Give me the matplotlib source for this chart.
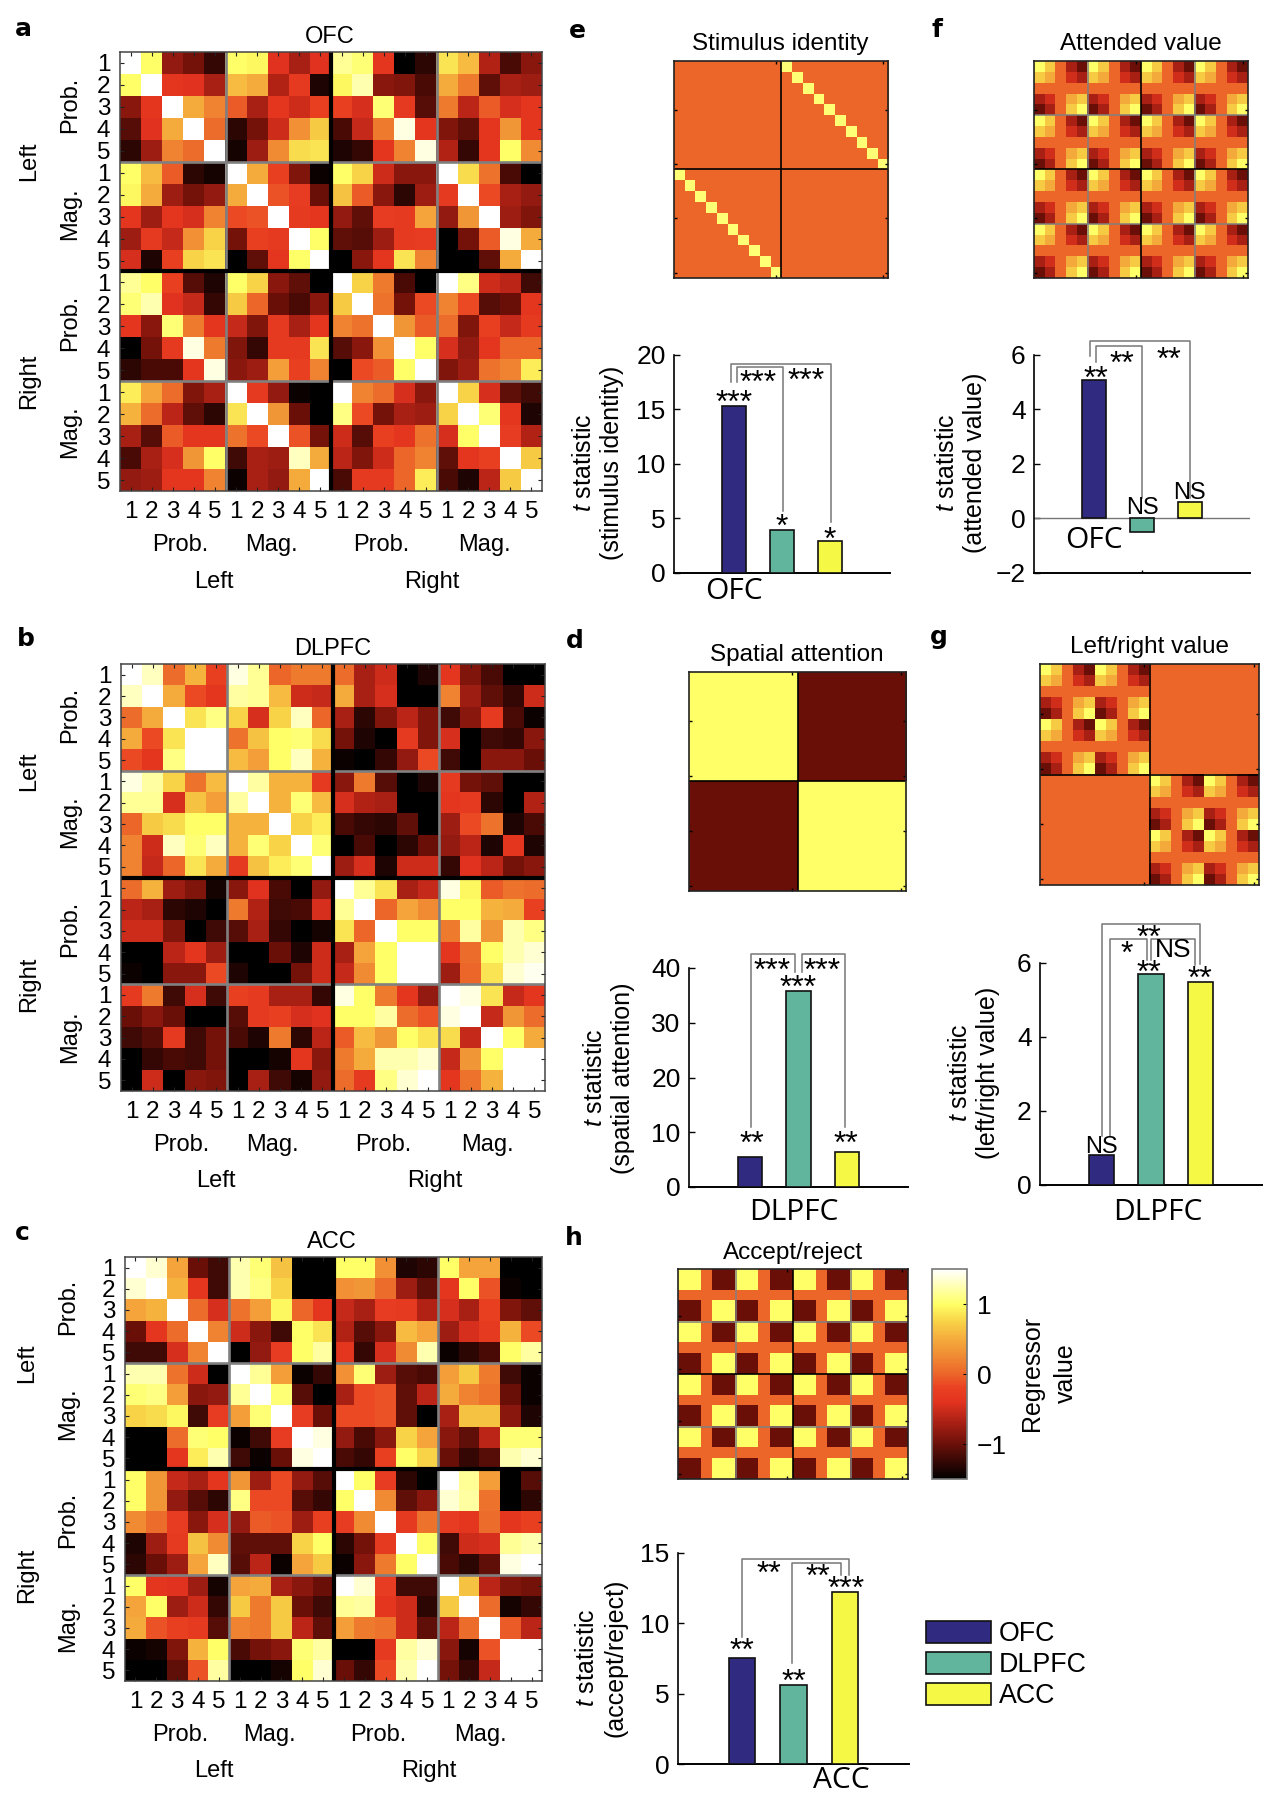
import numpy as np
import matplotlib
matplotlib.use('Agg')
import matplotlib.pyplot as plt
from matplotlib.colors import LinearSegmentedColormap
from matplotlib.patches import Patch

plt.rcParams['font.family'] = ['Liberation Sans', 'DejaVu Sans']
plt.rcParams['mathtext.fontset'] = 'custom'
plt.rcParams['mathtext.it'] = 'Liberation Sans:italic'
plt.rcParams['mathtext.rm'] = 'Liberation Sans'

W, H = 1280, 1803

# data correlation matrices, read cell by cell
ofc = [
    [1.5, 1.0, -.8, -.95, -1.25, 1.0, .95, -.4, -.7, -.4, 1.15, 1.05, -.35, -1.5, -1.3, .85, .6, -.65, -1.15, -.85],
    [1.0, 1.5, -.35, -.4, -.7, .6, .5, -.65, -.3, -1.35, .95, 1.25, -.85, -.9, -1.15, .5, .15, -1.05, -.7, -.75],
    [-.85, -.35, 1.5, .5, .2, -.05, -.7, -.35, -.5, -.2, -.2, -.45, 1.05, -.3, -1.1, .15, -.6, -.05, -.45, -.35],
    [-1.1, -.4, .5, 1.5, .05, -1.3, -.95, -.5, .3, .7, -1.15, -.55, .15, 1.4, -.35, -.9, -1.05, -.35, .35, -.35],
    [-1.3, -.75, .2, .05, 1.5, -1.4, -.75, .25, .8, .85, -1.35, -1.25, -.35, .2, 1.4, -.65, -1.25, -.35, 1.0, .25],
    [1.0, .6, -.05, -1.3, -1.4, 1.5, .5, -.2, -.9, -1.45, 1.0, .75, -.5, -.85, -.85, 1.5, .8, .1, -1.15, -1.5],
    [.95, .5, -.75, -.95, -.8, .5, 1.5, -.1, -.25, -1.0, .65, -.05, -.85, -1.3, -.75, -.3, 1.5, -.15, -.7, -.8],
    [-.35, -.75, -.35, -.45, .2, -.15, -.1, 1.5, -.3, -.35, -.8, -1.05, -.25, -.3, .45, -.8, .35, 1.5, -.75, -.9],
    [-.75, -.3, -.55, .3, .75, -.95, -.2, -.3, 1.5, 1.0, -1.05, -1.1, -.75, -.3, -.25, -1.5, -.95, -.05, 1.4, .5],
    [-.45, -1.35, -.2, .75, .85, -1.5, -1.05, -.35, 1.0, 1.5, -1.5, -.85, -.35, .85, .2, -1.5, -1.5, -1.05, .5, 1.5],
    [1.15, 1.0, -.2, -1.1, -1.35, 1.0, .75, -.85, -1.05, -1.5, 1.5, .75, .15, -1.15, -1.5, 1.5, 1.1, -.5, -.6, -1.2],
    [1.05, 1.25, -.4, -.55, -1.25, .7, 0, -1.0, -1.15, -.85, .7, 1.5, .1, -.95, -.15, .2, -.15, -1.1, -1.0, -.35],
    [-.35, -.85, 1.05, .15, -.35, -.55, -.9, -.3, -.7, -.35, .2, .1, 1.5, .35, -.05, .05, -.9, -.2, -.55, -.3],
    [-1.5, -.95, -.3, 1.4, .15, -.9, -1.25, -.3, -.3, .85, -1.1, -.85, .3, 1.5, 1.0, -.45, -.8, -.35, 0, 0],
    [-1.3, -1.15, -1.15, -.35, 1.4, -.85, -.75, .4, -.2, .2, -1.5, -.15, -.05, 1.0, 1.5, -.9, -.75, .1, .2, .9],
    [.9, .45, .05, -.9, -.7, 1.5, -.3, -.8, -1.45, -1.5, 1.5, .2, .05, -.45, -.85, 1.5, .75, -.45, -1.05, -1.2],
    [.55, .05, -.6, -1.05, -1.3, .85, 1.5, .35, -1.0, -1.5, 1.1, -.15, -.95, -.7, -.75, .75, 1.5, 1.05, -.35, -1.35],
    [-.7, -1.1, -.05, -.35, -.35, .1, -.15, 1.5, -.1, -.95, -.5, -1.1, -.2, -.35, .1, -.45, 1.0, 1.5, -.25, -.65],
    [-1.15, -.7, -.45, .35, 1.0, -1.2, -.7, -.75, 1.3, .5, -.6, -.9, -.5, 0, .2, -1.05, -.35, -.2, 1.5, .7],
    [-.8, -.75, -.35, -.35, .2, -1.45, -.7, -.8, .5, 1.5, -1.15, -.3, -.3, 0, .9, -1.15, -1.35, -.6, .7, 1.5],
]
dlpfc = [
    [1.5, 1.3, .05, .55, -.2, 1.4, 1.15, 0, .15, .15, .05, -.7, -.5, -1.5, -1.35, -.35, -.9, -1.15, -1.5, -1.5],
    [1.3, 1.5, .5, -.15, -.35, 1.2, 1.15, .6, -.5, -.55, .5, -.7, -.45, -1.5, -1.5, .2, -.75, -1.05, -1.25, -.5],
    [.05, .5, 1.5, .85, 1.1, .75, -.45, .75, 1.3, 0, -.7, -1.3, -.9, -.6, -.9, -1.2, -.85, -.3, -1.15, -1.45],
    [.5, -.15, .85, 1.5, 1.5, .1, .65, 1.0, 1.05, .8, -.95, -1.35, -1.5, -.3, -.9, -.45, -1.5, -1.2, -1.25, -.85],
    [-.15, -.35, 1.1, 1.5, 1.5, .6, .4, 1.0, 1.3, .55, -1.45, -1.5, -1.25, -.8, -.15, -1.2, -1.5, -.85, -.85, -1.0],
    [1.4, 1.2, .75, .1, .6, 1.5, 1.2, .55, .55, -.3, -.85, .15, -1.1, -1.5, -1.35, -.3, -.95, -1.05, -1.5, -1.5],
    [1.15, 1.15, -.45, .65, .4, 1.2, 1.5, .55, 1.05, .6, -.45, -.65, -.7, -1.5, -1.5, -.35, -.3, -1.3, -1.5, -.65],
    [0, .7, .8, 1.0, 1.0, .55, .55, 1.5, .75, .9, -1.15, -1.25, -1.3, -1.05, -1.5, -.75, -.15, .1, -1.35, -1.15],
    [.2, -.5, 1.3, 1.05, 1.3, .55, 1.05, .75, 1.5, 1.05, -1.5, -1.15, -1.5, -1.3, -1.0, -.8, -.6, -1.35, -.35, -1.35],
    [.2, -.55, 0, .85, .5, -.3, .65, .9, 1.05, 1.5, -.75, -.45, -1.35, -.5, -.5, -1.25, -.4, -.6, -.95, -.85],
    [.05, .55, -.75, -.9, -1.4, -.85, -.4, -1.15, -1.5, -.8, 1.5, 1.15, .85, -.7, -.55, 1.4, .95, -.05, .1, .05],
    [-.6, -.7, -1.3, -1.35, -1.5, .15, -.65, -1.2, -1.15, -.45, 1.15, 1.5, 0, .45, .25, 1.0, 1.0, .55, .5, -.2],
    [-.5, -.5, -.9, -1.5, -1.2, -1.1, -.7, -1.25, -1.5, -1.4, .85, 0, 1.5, 1.0, 1.0, .15, 1.2, .35, 1.25, 1.1],
    [-1.5, -1.5, -.6, -.35, -.75, -1.5, -1.5, -1.0, -1.35, -.5, -.7, .45, 1.0, 1.5, 1.5, -.35, .05, 1.0, 1.25, 1.35],
    [-1.45, -1.5, -.85, -.85, -.15, -1.35, -1.5, -1.5, -.95, -.5, -.55, .25, 1.0, 1.5, 1.5, -.75, 0, .85, 1.35, 1.45],
    [-.3, .15, -1.2, -.45, -1.2, -.2, -.3, -.7, -.7, -1.25, 1.4, 1.0, .15, -.35, -.8, 1.5, 1.4, .85, -.55, -.35],
    [-1, -.85, -1, -1.5, -1.5, -1.1, -.3, -.2, -.45, -.4, 1.0, 1.0, 1.2, .05, -.1, 1.4, 1.5, -.55, .35, .05],
    [-1.2, -1.1, -.3, -1.2, -.95, -1.15, -1.35, .15, -1.3, -.6, -.05, .6, .35, 1.0, .85, .8, -.55, 1.5, 1.0, .5],
    [-1.5, -1.25, -1.15, -1.2, -.95, -1.5, -1.5, -1.4, -.35, -.85, .15, .5, 1.25, 1.25, 1.35, -.55, .35, 1.0, 1.5, 1.5],
    [-1.5, -.5, -1.5, -.85, -.9, -1.5, -.7, -1.2, -1.4, -.8, .05, -.3, 1.1, 1.35, 1.5, -.35, .1, .55, 1.5, 1.5],
]
acc = [
    [1.5, 1.35, .45, -1, -1.2, 1.25, 1.05, .65, -1.5, -1.5, 1.0, 1.0, .3, -1.35, -1.3, 1.0, .45, .45, -1.5, -1.5],
    [1.35, 1.5, .55, -.35, -1.2, 1.25, 1.1, .75, -1.5, -1.5, .3, .35, .05, -.75, -1.05, -.35, 1.0, -.1, -1.45, -1.5],
    [.45, .55, 1.5, .05, -.45, .1, .4, .95, 0, -.35, -.55, -.7, -.25, -.3, -.65, -.45, -.7, -.2, -.9, -1.05],
    [-1, -.35, .05, 1.5, .2, -.5, -.85, -1.2, 1.0, .85, -.65, -1.1, -.85, .6, .45, -.75, -.45, -.3, .55, -.15],
    [-1.2, -1.2, -.45, .2, 1.5, -1.5, -.8, -.25, 1.0, 1.2, -.35, -1.25, -.45, .25, 1.25, -1.45, -1.3, -1.15, 1.0, 1.2],
    [1.25, 1.25, .1, -.5, -1.5, 1.5, 1.15, .4, -1.45, -1.25, .3, 1.05, -.75, -1.1, -1.15, .4, .7, .15, -1.2, -1.45],
    [1.05, 1.1, .4, -.85, -.8, 1.15, 1.5, 1.05, -1.1, -1.5, -.7, -.15, -.1, -1.05, -.6, .5, .2, .1, -1.0, -1.45],
    [.75, .8, .95, -1.2, -.25, .4, 1.05, 1.5, -.25, -1.0, -.15, -.15, -.1, -1.05, -1.5, -.7, .65, .65, -.85, -1.35],
    [-1.5, -1.5, .05, 1.05, 1.0, -1.45, -1.2, -.25, 1.5, 1.4, -.8, -1.15, -.85, .75, .45, -.85, -1.05, -.6, 1.05, 1.05],
    [-1.5, -1.5, -.35, .9, 1.25, -1.2, -1.45, -1, 1.4, 1.5, -1.15, -1.25, -.2, 1.0, .75, -1, -1.25, -1.1, 1.25, 1.35],
    [1.0, .35, -.55, -.7, -.35, .35, -.75, -.15, -.8, -1.1, 1.5, 1.0, -.25, -1.3, -1.5, 1.5, 1.15, .4, -1.5, -1.1],
    [1.0, .35, -.8, -1.1, -1.3, 1.1, -.15, -.15, -1.1, -1.25, 1.0, 1.5, .25, -1.05, -.85, 1.35, 1.2, .1, -1.5, -1.3],
    [.25, .05, -.25, -.85, -.45, -.8, -.05, -.1, -.75, -.2, -.25, .25, 1.5, -.3, .1, -.25, -.35, .05, -.35, -.2],
    [-1.35, -.75, -.3, .65, .25, -1.05, -1.05, -1.05, .75, 1.0, -1.3, -.95, -.3, 1.5, 1.0, -1.2, -.5, -.45, 1.15, 1.25],
    [-1.3, -1, -.75, .45, 1.3, -1.1, -.6, -1.45, .45, .7, -1.45, -.85, .15, 1.0, 1.5, -1.15, -1.3, -1.05, 1.4, 1.5],
    [1.0, -.35, -.4, -.75, -1.4, .45, .5, -.7, -.85, -1.0, 1.5, 1.35, -.25, -1.2, -1.2, 1.5, .65, -.6, -.9, -.95],
    [.45, 1.0, -.75, -.5, -1.25, .7, .15, .7, -1.0, -1.2, 1.15, 1.2, -.35, -.5, -1.3, .7, 1.5, .05, -1.4, -1.25],
    [.5, -.1, -.2, -.3, -1.1, .2, .15, .7, -.6, -1.05, .4, .15, .1, -.5, -1.05, -.6, .05, 1.5, -.05, -.6],
    [-1.45, -1.4, -.9, .55, 1.0, -1.15, -.95, -.85, 1.05, 1.2, -1.5, -1.5, -.3, 1.2, 1.35, -.85, -1.4, -.1, 1.5, 1.5],
    [-1.5, -1.5, -1.05, -.1, 1.2, -1.5, -1.5, -1.4, 1.0, 1.35, -1, -1.25, -.15, 1.25, 1.5, -.95, -1.25, -.55, 1.5, 1.5],
]

# regressor patterns
value_pattern = [1, .7, 0, -.7, -1]
accept_pattern = [1, 1, 0, -1, -1]
spatial_levels = [1, -1]

# bar values, order is OFC, DLPFC, ACC
stim_t = [15.3, 3.95, 2.9]
attended_t = [5.07, -.5, .6]
spatial_t = [5.5, 35.8, 6.4]
leftright_t = [.8, 5.7, 5.5]
accept_t = [7.55, 5.6, 12.2]
bar_names = ['OFC', 'DLPFC', 'ACC']
bar_colors = ['#302a80', '#60b59c', '#f5f845']

cmap_stops = [(-1.5, '#000000'), (-1.0, '#6c1009'), (-.7, '#a82014'), (-.4, '#e2331f'), (-.2, '#ea4022'),
              (0, '#ec6529'), (.25, '#f08a33'), (.5, '#f5ab3c'), (.75, '#f8d246'), (1.0, '#ffff66'),
              (1.25, '#ffffb0'), (1.5, '#ffffff')]
hot_map = LinearSegmentedColormap.from_list('regressor', [((v + 1.5) / 3, c) for v, c in cmap_stops])


def px_axes(fig, x0, y0, x1, y1):
    # pixel box with y from the top
    return fig.add_axes([x0 / W, 1 - y1 / H, (x1 - x0) / W, (y1 - y0) / H])


def fig_text(fig, x, y, s, **kw):
    kw.setdefault('ha', 'center')
    kw.setdefault('va', 'center')
    return fig.text(x / W, 1 - y / H, s, **kw)


def data_panel(fig, box, mat, title, title_xy, group_x, group_y, side_x, left_right_y, prob_mag_y, letter, letter_xy):
    ax = px_axes(fig, *box)
    ax.imshow(np.array(mat), cmap=hot_map, vmin=-1.5, vmax=1.5, aspect='auto', interpolation='nearest')
    for p in (4.5, 14.5):
        ax.axhline(p, color='#808080', lw=1.9)
        ax.axvline(p, color='#808080', lw=1.9)
    ax.axhline(9.5, color='black', lw=3.0)
    ax.axvline(9.5, color='black', lw=3.0)
    ax.set_xticks(range(20))
    ax.set_yticks(range(20))
    ax.set_xticklabels([1, 2, 3, 4, 5] * 4)
    ax.set_yticklabels([1, 2, 3, 4, 5] * 4)
    ax.tick_params(direction='in', length=3, width=.8, top=True, right=True, labelsize=17.5, pad=7, color='#222222')
    for s in ax.spines.values():
        s.set_linewidth(1.1)
        s.set_color('#444444')
    fig_text(fig, title_xy[0], title_xy[1] + 3, title, fontsize=17)
    for x, s in zip(group_x[:4], ['Prob.', 'Mag.', 'Prob.', 'Mag.']):
        fig_text(fig, x, group_y[0] + 2, s, fontsize=17)
    for x, s in zip(group_x[4:], ['Left', 'Right']):
        fig_text(fig, x, group_y[1] + 2, s, fontsize=17)
    for y, s in zip(left_right_y, ['Left', 'Right']):
        fig_text(fig, side_x[0], y, s, fontsize=17, rotation=90)
    for y, s in zip(prob_mag_y, ['Prob.', 'Mag.', 'Prob.', 'Mag.']):
        fig_text(fig, side_x[1], y - 2, s, fontsize=17, rotation=90)
    fig_text(fig, *letter_xy, letter, fontsize=18, fontweight='bold', family='DejaVu Sans')


def design_panel(fig, box, mat, title, title_xy, gray=True):
    ax = px_axes(fig, *box)
    im = ax.imshow(mat, cmap=hot_map, vmin=-1.5, vmax=1.5, aspect='auto', interpolation='nearest')
    if gray:
        for p in (4.5, 14.5):
            ax.axhline(p, color='#808080', lw=1.1)
            ax.axvline(p, color='#808080', lw=1.1)
    ax.axhline(9.5, color='black', lw=1.2)
    ax.axvline(9.5, color='black', lw=1.2)
    ax.set_xticks([9, 19])
    ax.set_yticks([4, 9, 14, 19])
    ax.set_xticklabels([])
    ax.set_yticklabels([])
    ax.tick_params(direction='in', length=2, width=1, top=True, right=True)
    for s in ax.spines.values():
        s.set_linewidth(1.2)
        s.set_color('#222222')
    fig_text(fig, title_xy[0], title_xy[1] + 3, title, fontsize=17.5)
    return im


def bar_panel(fig, box, vals, ylim, yticks, ylab, ylab_xy, name, name_xy):
    ax = px_axes(fig, *box)
    ax.bar([1, 2, 3], vals, width=.51, color=bar_colors, edgecolor='#111111', linewidth=1.2, zorder=3)
    ax.set_xlim(2 - 2.26, 2 + 2.26)
    ax.set_ylim(*ylim)
    ax.set_yticks(yticks)
    ax.set_yticklabels([str(t).replace('-', '\u2212') for t in yticks])
    ax.set_xticks([2])
    ax.set_xticklabels([])
    ax.tick_params(direction='in', length=4.5, width=1, labelsize=19, pad=6)
    ax.tick_params(axis='x', length=2.5)
    ax.spines['top'].set_visible(False)
    ax.spines['right'].set_visible(False)
    ax.spines['left'].set_linewidth(1.2)
    ax.spines['bottom'].set_linewidth(1.4)
    ax.patch.set_alpha(0)
    if ylim[0] < 0:
        ax.axhline(0, color='#777777', lw=1, zorder=2)
    fig_text(fig, *ylab_xy, ylab, fontsize=18, rotation=90, linespacing=1.25, ma='center')
    fig_text(fig, name_xy[0], name_xy[1] + 1, name, fontsize=21.5, family='Open Sans')
    return ax


def bracket(ax, x0, x1, top, y0, y1):
    ax.plot([x0, x0, x1, x1], [y0, top, top, y1], color='#777777', lw=1.1, clip_on=False, zorder=4)


def stars(ax, x, y, s):
    # y is the middle of the asterisk, which sits high above the baseline
    ax.annotate(s, (x, y), xytext=(0, -11), textcoords='offset points', ha='center', va='baseline',
                fontsize=23, annotation_clip=False, zorder=5)


def ns(ax, x, y, size=17):
    ax.text(x, y, 'NS', ha='center', va='center', fontsize=size, clip_on=False, zorder=5,
            family=['Liberation Sans Narrow', 'Liberation Sans'])


fig = plt.figure(figsize=(W / 100, H / 100), dpi=100, facecolor='white')

data_panel(fig, (120, 52, 542, 491), ofc, 'OFC', (330, 34), (180, 271, 381, 484, 214, 432), (543, 580), (29, 70),
           (161, 381), (107, 216, 325, 434), 'a', (23, 29))
data_panel(fig, (121, 664, 545, 1091), dlpfc, 'DLPFC', (333, 646), (181, 272, 383, 487, 216, 435), (1143, 1179), (29, 70),
           (771, 984), (717, 824, 931, 1039), 'b', (26, 639))
data_panel(fig, (125, 1257, 542, 1681), acc, 'ACC', (332, 1239), (180, 269, 378, 480, 214, 429), (1733, 1769), (27.5, 68),
           (1363, 1575), (1309, 1416, 1522, 1628), 'c', (22, 1233))

# stimulus identity design, one yellow diagonal in each off-diagonal quadrant
stim_mat = np.block([[np.zeros((10, 10)), np.eye(10) * 1.05], [np.eye(10) * 1.05, np.zeros((10, 10))]])
design_panel(fig, (674, 61, 888, 278), stim_mat, 'Stimulus identity', (780, 41), gray=False)

value_tile = np.outer(value_pattern, value_pattern)
design_panel(fig, (1034, 61, 1248, 278), np.tile(value_tile, (4, 4)), 'Attended value', (1141, 41))

spatial_mat = np.block([[np.full((10, 10), spatial_levels[0]), np.full((10, 10), spatial_levels[1])],
                        [np.full((10, 10), spatial_levels[1]), np.full((10, 10), spatial_levels[0])]])
design_panel(fig, (689, 672, 906, 891), spatial_mat, 'Spatial attention', (796.5, 652), gray=False)

lr_quad = np.tile(value_tile, (2, 2))
lr_mat = np.block([[lr_quad, np.zeros((10, 10))], [np.zeros((10, 10)), lr_quad]])
design_panel(fig, (1040, 664, 1259, 885), lr_mat, 'Left/right value', (1149, 644), gray=False)

accept_tile = np.outer(accept_pattern, accept_pattern)
im = design_panel(fig, (678, 1269, 908, 1479), np.tile(accept_tile, (4, 4)), 'Accept/reject', (793, 1250))

cax = px_axes(fig, 932, 1269, 967, 1479)
cb = fig.colorbar(im, cax=cax)
cb.set_ticks([-1, 0, 1])
cb.set_ticklabels(['\u22121', '0', '1'])
cb.ax.tick_params(direction='in', length=3, width=.8, labelsize=19, pad=7)
cb.outline.set_edgecolor('#777777')
cb.outline.set_linewidth(1.2)
fig_text(fig, 1049, 1373, 'Regressor\nvalue', fontsize=18, rotation=90, linespacing=1.55, ma='center')

ax = bar_panel(fig, (674, 355, 890, 572.5), stim_t, (0, 20), [0, 5, 10, 15, 20],
               '$\\mathit{t}$ statistic\n(stimulus identity)', (598, 463), 'OFC', (734, 591))
bracket(ax, .94, 3.02, 19.2, 17.5, 4.6)
bracket(ax, 1.06, 2.02, 18.9, 17.5, 5.66)
stars(ax, 1, 16.2, '***')
stars(ax, 1.49, 18, '***')
stars(ax, 2.5, 18.2, '***')
stars(ax, 2, 4.8, '*')
stars(ax, 3, 3.6, '*')

ax = bar_panel(fig, (1034, 355, 1250, 572.5), attended_t, (-2, 6), [-2, 0, 2, 4, 6],
               '$\\mathit{t}$ statistic\n(attended value)', (961, 463), 'OFC', (1093.5, 539))
bracket(ax, .92, 3, 6.5, 5.95, .75)
bracket(ax, 1.04, 2, 6.33, 5.74, .75)
stars(ax, 1.04, 5.36, '**')
stars(ax, 1.58, 5.92, '**')
stars(ax, 2.56, 6.06, '**')
ns(ax, 2, .37)
ns(ax, 3, .94)

ax = bar_panel(fig, (689, 968, 908, 1187), spatial_t, (0, 40), [0, 10, 20, 30, 40],
               '$\\mathit{t}$ statistic\n(spatial attention)', (609, 1078), 'DLPFC', (794, 1211))
bracket(ax, 1.01, 1.92, 42.5, 11, 39.2)
bracket(ax, 2.08, 2.96, 42.5, 39.2, 10.9)
stars(ax, 1.45, 40.6, '***')
stars(ax, 2.49, 40.6, '***')
stars(ax, 2, 37.5, '***')
stars(ax, 1.03, 8.95, '**')
stars(ax, 2.97, 8.95, '**')

ax = bar_panel(fig, (1040, 963, 1262, 1185), leftright_t, (0, 6), [0, 2, 4, 6],
               '$\\mathit{t}$ statistic\n(left/right value)', (974, 1073), 'DLPFC', (1158, 1211))
bracket(ax, 1.01, 2.99, 7.06, 1.32, 5.98)
bracket(ax, 1.16, 1.92, 6.65, 1.32, 6.08)
bracket(ax, 2, 2.9, 6.65, 6.08, 5.95)
stars(ax, 1.95, 6.86, '**')
stars(ax, 1.5, 6.42, '*')
ns(ax, 2.46, 6.34, size=19)
stars(ax, 1.95, 5.9, '**')
stars(ax, 2.99, 5.74, '**')
ns(ax, 1, 1.03)

ax = bar_panel(fig, (678, 1553, 909, 1764), accept_t, (0, 15), [0, 5, 10, 15],
               '$\\mathit{t}$ statistic\n(accept/reject)', (601, 1658), 'ACC', (841, 1780))
bracket(ax, 1, 3.09, 14.6, 9, 13.46)
bracket(ax, 1.98, 2.92, 14.27, 7.2, 13.46)
stars(ax, 1.52, 13.95, '**')
stars(ax, 2.48, 13.73, '**')
stars(ax, 3.02, 12.87, '***')
stars(ax, 1, 8.47, '**')
stars(ax, 2, 6.26, '**')

handles = [Patch(facecolor=c, edgecolor='#111111', linewidth=1.2) for c in bar_colors]
fig.legend(handles, bar_names, loc='upper left', bbox_to_anchor=(926 / W, 1 - 1621 / H), frameon=False, fontsize=19.3,
           handlelength=2.42, handleheight=.88, labelspacing=.18, handletextpad=.3, borderpad=0, borderaxespad=0)

for letter, xy in zip('efdgh', [(577, 31), (936.5, 30), (575, 641), (939, 637), (574, 1238)]):
    fig_text(fig, *xy, letter, fontsize=18, fontweight='bold', family='DejaVu Sans')

fig.savefig('out.png', dpi=100)
